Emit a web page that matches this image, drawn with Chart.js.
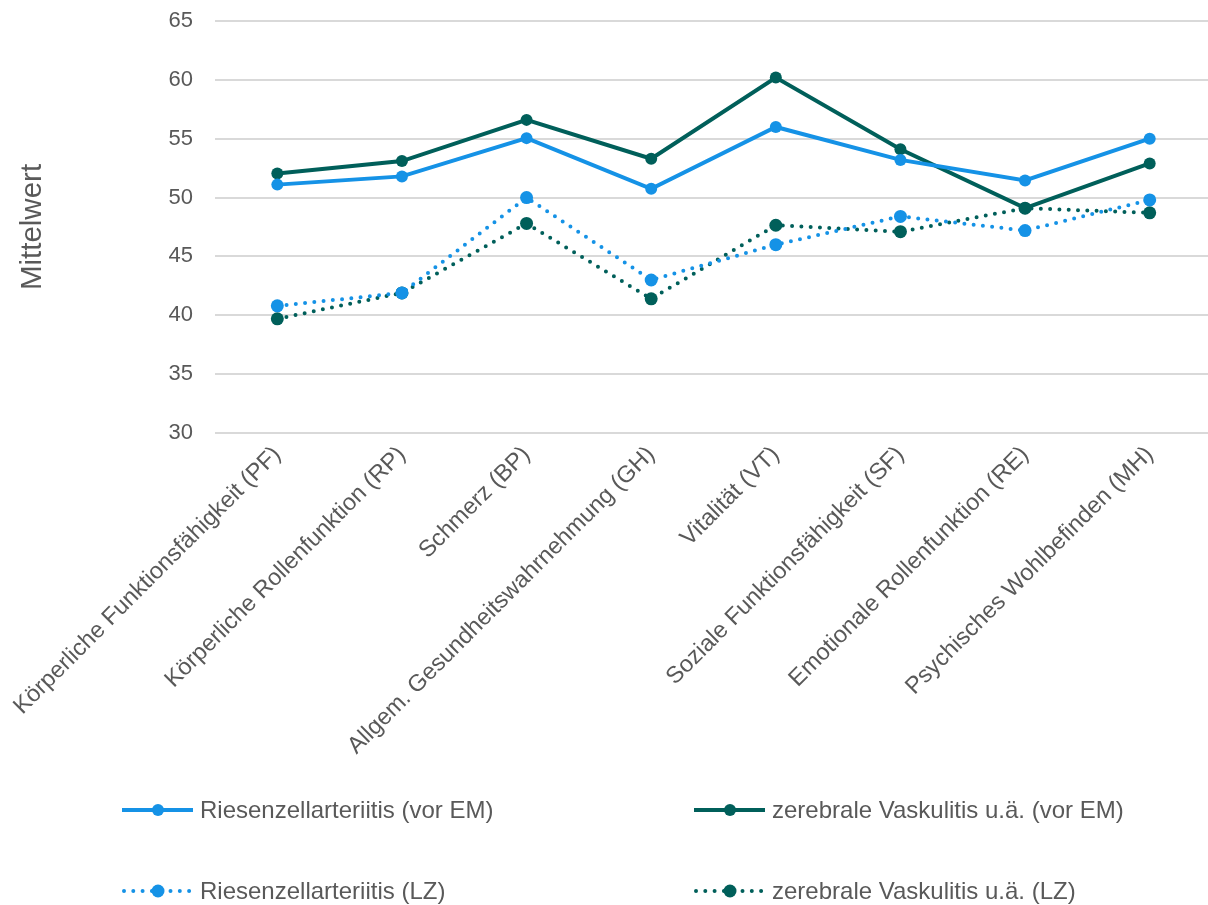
<!DOCTYPE html>
<html>
<head>
<meta charset="utf-8">
<script src="https://cdn.jsdelivr.net/npm/chart.js@4"></script>
<style>
  html, body { margin: 0; padding: 0; background: #fff; overflow: hidden; }
  #wrap { width: 1208px; height: 905px; overflow: hidden; }
</style>
</head>
<body>
<div id="wrap"><canvas id="lineChart" width="1212" height="905"></canvas></div>
<script>
const categories = [
  'Körperliche Funktionsfähigkeit (PF)',
  'Körperliche Rollenfunktion (RP)',
  'Schmerz (BP)',
  'Allgem. Gesundheitswahrnehmung (GH)',
  'Vitalität (VT)',
  'Soziale Funktionsfähigkeit (SF)',
  'Emotionale Rollenfunktion (RE)',
  'Psychisches Wohlbefinden (MH)'
];
const rzaVorEM = [51.1, 51.8, 55.05, 50.75, 56.0, 53.2, 51.45, 55.0];
const zvVorEM = [52.05, 53.1, 56.6, 53.3, 60.2, 54.1, 49.1, 52.9];
const rzaLZ = [40.8, 41.9, 50.0, 43.0, 46.0, 48.4, 47.2, 49.8];
const zvLZ = [39.7, 41.9, 47.8, 41.4, 47.65, 47.1, 49.1, 48.7];
const yTicks = [30, 35, 40, 45, 50, 55, 60, 65];

const lightBlue = '#1592E6';
const darkTeal = '#005F5A';
const textColor = '#595959';
const fontFamily = '"Liberation Sans", Arial, sans-serif';

function series(label, data, color, dotted) {
  return {
    label: label,
    data: data,
    borderColor: color,
    backgroundColor: color,
    borderWidth: 4,
    borderDash: dotted ? [0, 9.3] : [],
    borderCapStyle: dotted ? 'round' : 'butt',
    pointRadius: dotted ? 6.5 : 6,
    pointBorderWidth: 0,
    pointBackgroundColor: color,
    tension: 0,
    dotted: dotted
  };
}

// legend drawn in fixed columns like the original
const gridLegend = {
  id: 'gridLegend',
  afterDraw(chart) {
    const ctx = chart.ctx;
    const colX = [122, 694];
    const rowY = [810, 891];
    ctx.save();
    chart.data.datasets.forEach((ds, i) => {
      const x = colX[i % 2];
      const y = rowY[Math.floor(i / 2)];
      ctx.strokeStyle = ds.borderColor;
      ctx.fillStyle = ds.borderColor;
      ctx.lineWidth = 4;
      if (ds.dotted) {
        ctx.lineCap = 'round';
        ctx.setLineDash([0, 9.3]);
        ctx.beginPath();
        ctx.moveTo(x + 2, y);
        ctx.lineTo(x + 71, y);
        ctx.stroke();
      } else {
        ctx.lineCap = 'butt';
        ctx.setLineDash([]);
        ctx.beginPath();
        ctx.moveTo(x, y);
        ctx.lineTo(x + 71, y);
        ctx.stroke();
      }
      ctx.setLineDash([]);
      ctx.beginPath();
      ctx.arc(x + 36, y, ds.dotted ? 6.5 : 6, 0, Math.PI * 2);
      ctx.fill();
      ctx.fillStyle = textColor;
      ctx.font = '24px ' + fontFamily;
      ctx.textBaseline = 'middle';
      ctx.textAlign = 'left';
      ctx.fillText(ds.label, x + 78, y + 1);
    });
    ctx.restore();
  }
};

const ctx = document.getElementById('lineChart').getContext('2d');
const lineChart = new Chart(ctx, {
  type: 'line',
  data: {
    labels: categories,
    datasets: [
      series('Riesenzellarteriitis (vor EM)', rzaVorEM, lightBlue, false),
      series('zerebrale Vaskulitis u.ä. (vor EM)', zvVorEM, darkTeal, false),
      series('Riesenzellarteriitis (LZ)', rzaLZ, lightBlue, true),
      series('zerebrale Vaskulitis u.ä. (LZ)', zvLZ, darkTeal, true)
    ]
  },
  options: {
    responsive: false,
    animation: false,
    layout: { autoPadding: false, padding: { left: 0, right: 0, top: 21, bottom: 0 } },
    plugins: {
      legend: { display: false },
      tooltip: { enabled: false }
    },
    scales: {
      x: {
        offset: true,
        grid: { display: false, drawTicks: false },
        border: { display: false },
        ticks: {
          color: textColor,
          font: { size: 23.5, family: fontFamily },
          maxRotation: 45,
          minRotation: 45,
          padding: 8,
          autoSkip: false
        },
        afterFit(scale) {
          scale.height = 905 - 433;
          scale.paddingLeft = 0;
          scale.paddingRight = 0;
        }
      },
      y: {
        min: 30,
        max: 65,
        afterBuildTicks(scale) { scale.ticks = yTicks.map(v => ({ value: v })); },
        grid: { color: '#D9D9D9', lineWidth: 2, drawTicks: false },
        border: { display: false },
        ticks: {
          color: textColor,
          font: { size: 22, family: fontFamily },
          padding: 22
        },
        title: {
          display: true,
          text: 'Mittelwert',
          color: textColor,
          font: { size: 29.5, family: fontFamily },
          padding: { top: 15, bottom: 0 }
        },
        afterFit(scale) {
          scale.width = 215;
          scale.paddingTop = 0;
          scale.paddingBottom = 0;
        }
      }
    }
  },
  plugins: [gridLegend]
});
</script>
</body>
</html>
